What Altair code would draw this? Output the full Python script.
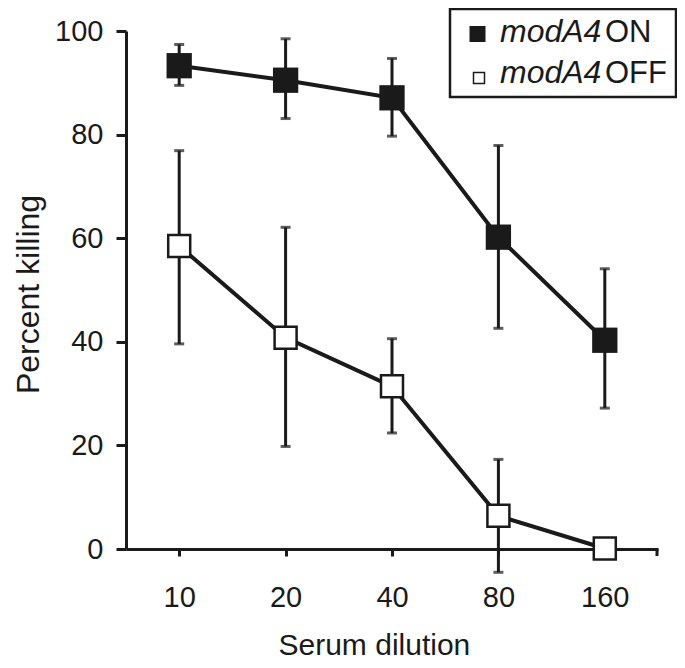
import altair as alt
import pandas as pd

# ---- data ----
dilutions = ["10", "20", "40", "80", "160"]

on_mean = [93.3, 90.5, 87.1, 60.2, 40.3]
on_upper = [97.4, 98.5, 94.7, 77.9, 54.1]
on_lower = [89.5, 83.1, 79.7, 42.6, 27.2]

off_mean = [58.5, 40.8, 31.4, 6.4, 0.1]
off_upper = [76.9, 62.1, 40.6, 17.3, 0.1]
off_lower = [39.6, 19.8, 22.4, -4.5, 0.1]

series_names = ["modA4ON", "modA4OFF"]

rows = []
for name, m, u, l in [
    (series_names[0], on_mean, on_upper, on_lower),
    (series_names[1], off_mean, off_upper, off_lower),
]:
    for d, mv, uv, lv in zip(dilutions, m, u, l):
        rows.append({"series": name, "dilution": d, "mean": mv, "upper": uv, "lower": lv})
df = pd.DataFrame(rows)

INK = "#1a1a1a"
FONT = "Liberation Sans"
W, H = 532, 518

x_enc = alt.X(
    "dilution:O",
    sort=dilutions,
    scale=alt.Scale(type="point", padding=0.5),
    axis=alt.Axis(
        labelAngle=0,
        tickSize=7,
        labelPadding=50.7,
        labelBaseline="alphabetic",
        title="Serum dilution",
        titleX=152,
        titleY=105,
        titleAlign="left",
        titleBaseline="alphabetic",
    ),
)
y_scale = alt.Scale(domain=[0, 100], nice=False, zero=False)
y_enc = alt.Y(
    "mean:Q",
    scale=y_scale,
    axis=alt.Axis(
        values=[0, 20, 40, 60, 80, 100],
        tickSize=10,
        labelPadding=13,
        title="Percent killing",
        titleX=-88,
        titleY=H / 2 + 4,
        titleAngle=270,
        titleAlign="center",
        titleBaseline="alphabetic",
        titleFontSize=32,
    ),
)

base = alt.Chart(df)

lines = base.mark_line(color=INK, strokeWidth=4).encode(
    x=x_enc, y=y_enc, detail="series:N"
)
err = base.mark_rule(color=INK, strokeWidth=3).encode(
    x=alt.X("dilution:O", sort=dilutions),
    y=alt.Y("lower:Q", scale=y_scale),
    y2="upper:Q",
)
cap_top = base.mark_tick(color=INK, orient="horizontal", size=10, thickness=3).encode(
    x=alt.X("dilution:O", sort=dilutions),
    y=alt.Y("upper:Q", scale=y_scale),
)
cap_bot = base.mark_tick(color=INK, orient="horizontal", size=10, thickness=3).encode(
    x=alt.X("dilution:O", sort=dilutions),
    y=alt.Y("lower:Q", scale=y_scale),
)
on_pts = base.transform_filter(alt.datum.series == series_names[0]).mark_point(
    shape="square", filled=True, color=INK, size=640, opacity=1
).encode(x=alt.X("dilution:O", sort=dilutions), y=alt.Y("mean:Q", scale=y_scale))
off_pts = base.transform_filter(alt.datum.series == series_names[1]).mark_point(
    shape="square", filled=False, fill="white", stroke=INK, strokeWidth=2.5, size=484, opacity=1
).encode(x=alt.X("dilution:O", sort=dilutions), y=alt.Y("mean:Q", scale=y_scale))

one = alt.Data(values=[{"k": 1}])

end_tick = alt.Chart(one).mark_rule(color=INK, strokeWidth=3).encode(
    x=alt.value(W - 1), y=alt.value(H), y2=alt.value(H + 7)
)

leg_box = alt.Chart(one).mark_rect(fill="white", stroke=INK, strokeWidth=2.5).encode(
    x=alt.value(324), x2=alt.value(550), y=alt.value(-22), y2=alt.value(66)
)
leg_sq1 = alt.Chart(one).mark_point(shape="square", filled=True, color=INK, size=256, opacity=1).encode(
    x=alt.value(351.5), y=alt.value(3)
)
leg_sq2 = alt.Chart(one).mark_point(
    shape="square", filled=False, fill="white", stroke=INK, strokeWidth=1.5, size=121, opacity=1
).encode(x=alt.value(353), y=alt.value(47))


def leg_text(txt, x, y, italic, size):
    return alt.Chart(one).mark_text(
        font=FONT, fontSize=size, fontStyle="italic" if italic else "normal",
        align="left", baseline="alphabetic", color=INK,
    ).encode(x=alt.value(x), y=alt.value(y), text=alt.value(txt))


leg_t1a = leg_text("modA4", 374, 10.7, True, 32)
leg_t1b = leg_text("ON", 479, 10.7, False, 31)
leg_t2a = leg_text("modA4", 374, 52, True, 32)
leg_t2b = leg_text("OFF", 479, 52, False, 31)

chart = alt.layer(
    lines, err, cap_top, cap_bot, on_pts, off_pts, end_tick,
    leg_box, leg_sq1, leg_sq2, leg_t1a, leg_t1b, leg_t2a, leg_t2b,
).properties(
    width=W,
    height=H,
    background="white",
    autosize=alt.AutoSizeParams(type="none"),
    padding={"left": 118, "top": 23, "right": 19, "bottom": 111},
).configure_view(stroke=None).configure_axis(
    grid=False,
    domainColor=INK,
    domainWidth=3,
    tickColor=INK,
    tickWidth=3,
    labelFont=FONT,
    labelFontSize=29,
    labelColor=INK,
    titleFont=FONT,
    titleFontSize=30,
    titleFontWeight="normal",
    titleColor=INK,
)

chart.save("out.html", embed_options={"renderer": "svg", "actions": False})
